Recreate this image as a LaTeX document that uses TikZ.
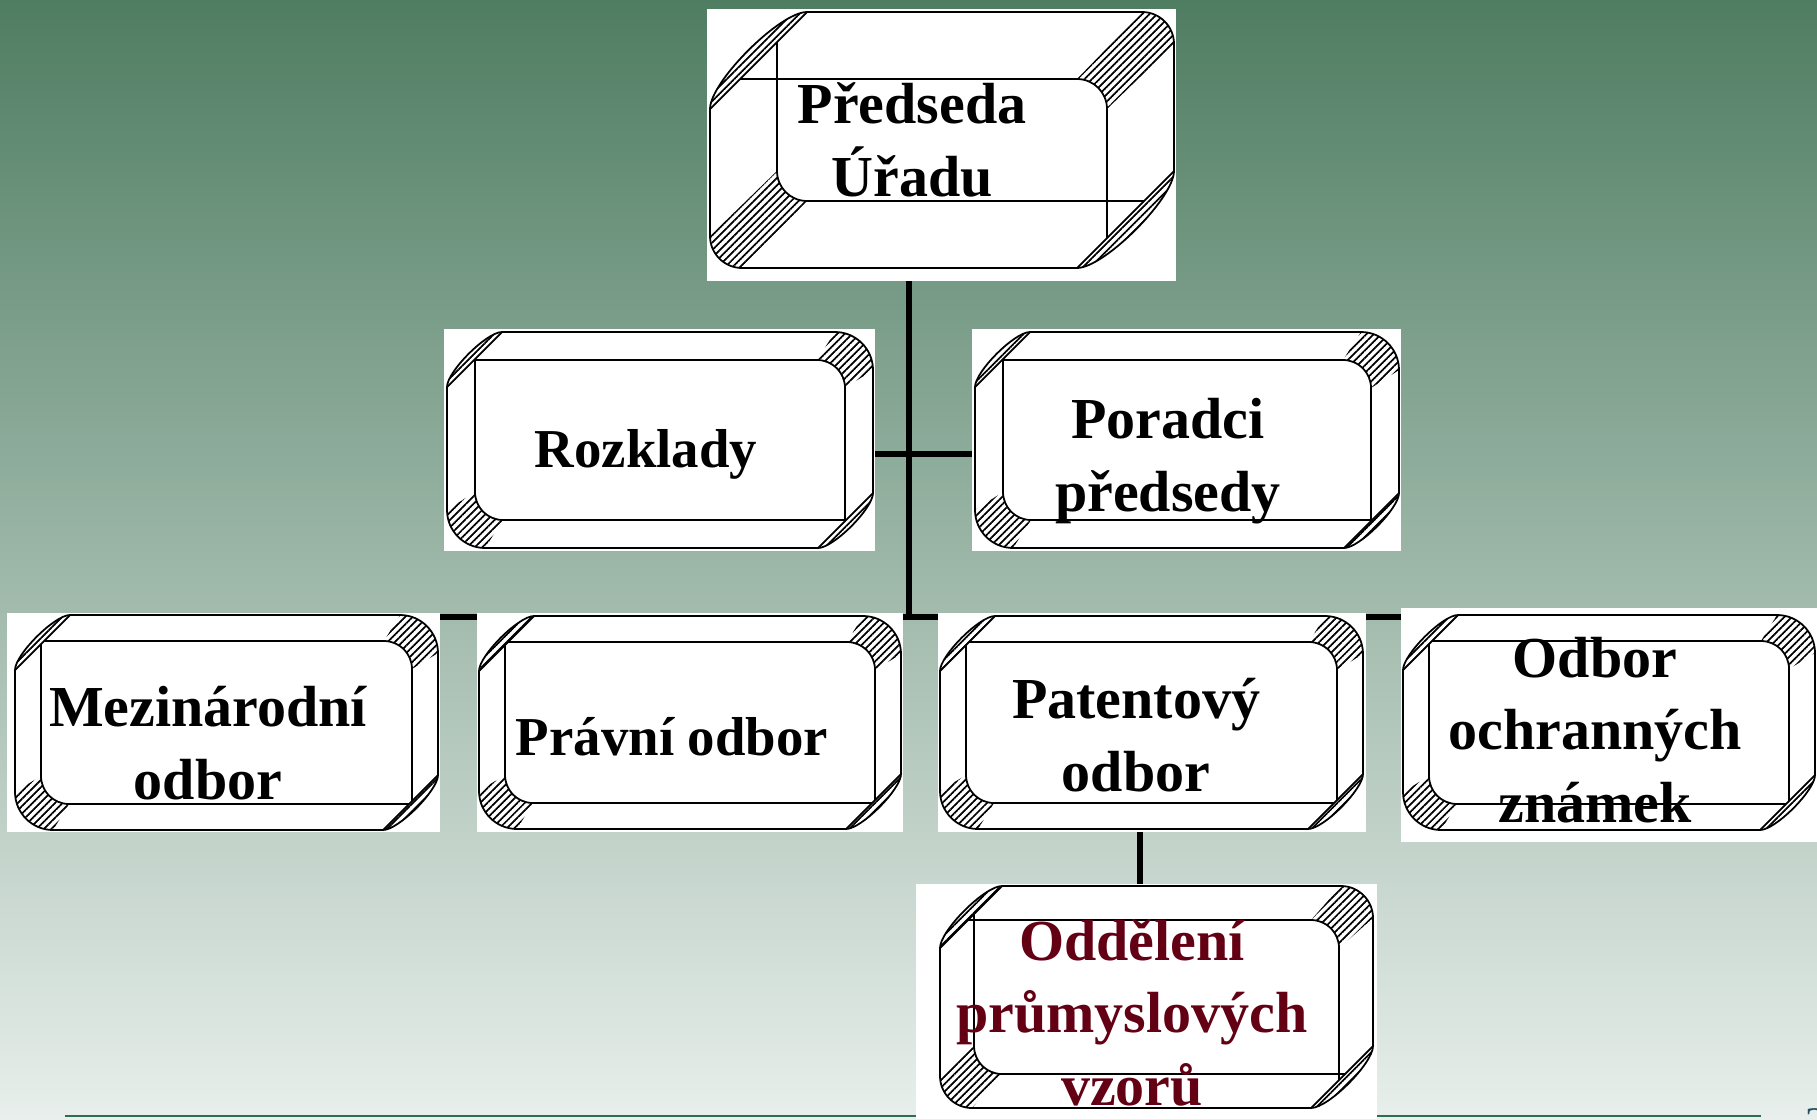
\documentclass[tikz,border=0pt]{standalone}
\usepackage{fontspec}
\setmainfont{Liberation Serif}
\usepackage{xcolor}
\usetikzlibrary{positioning, fit, patterns.meta}
\definecolor{bgtop}{HTML}{4F7D62}
\definecolor{bgmid}{HTML}{B7C7BE}
\definecolor{bgbot}{HTML}{E8EFEC}
\definecolor{footgreen}{HTML}{2E6E4C}
\definecolor{darkred}{HTML}{640014}
\definecolor{pagecol}{HTML}{24505F}
\pgfdeclarelayer{background}
\pgfdeclarelayer{lines}
\pgfsetlayers{background,lines,main}
\tikzdeclarepattern{
    name=bevhatch,
    bounding box={(0,-.3pt) and (1.5pt,.3pt)},
    tile size={(1.5pt,1.5pt)},
    tile transformation={rotate=45},
    code={\draw[line width=.5pt] (0,0) -- (1.5pt,0);}
}
\tikzset{
    boxbg/.style={rectangle, fill=white, inner sep=0pt},
    bev/.style={line width=0.5pt},
    lbl/.style={font=\fontsize{16.5}{20.5}\selectfont\bfseries, align=center, anchor=base, inner sep=0pt},
    slbl/.style={lbl, font=\fontsize{15.6}{20}\selectfont\bfseries},
    conn/.style={line width=1.7pt, line cap=rect},
}
% outer box a b c e, inset d, outer radius R, inner radius r, chamfer C
\newcommand\drawbevel[8]{
    \fill[pattern=bevhatch] (#1,#2+#8) .. controls (#1,#2+0.72*#8) and (#1+0.72*#8,#2) .. (#1+#8,#2) -- cycle;
    \fill[pattern=bevhatch] (#3,#4-#8) .. controls (#3,#4-0.72*#8) and (#3-0.72*#8,#4) .. (#3-#8,#4) -- cycle;
    \fill[pattern=bevhatch] (#3-#6,#2) .. controls (#3-0.448*#6,#2) and (#3,#2+0.448*#6) .. (#3,#2+#6)
        -- (#3-#5,#2+#5+#7) .. controls (#3-#5,#2+#5+0.448*#7) and (#3-#5-0.448*#7,#2+#5) .. (#3-#5-#7,#2+#5) -- cycle;
    \fill[pattern=bevhatch] (#1+#6,#4) .. controls (#1+0.448*#6,#4) and (#1,#4-0.448*#6) .. (#1,#4-#6)
        -- (#1+#5,#4-#5-#7) .. controls (#1+#5,#4-#5-0.448*#7) and (#1+#5+0.448*#7,#4-#5) .. (#1+#5+#7,#4-#5) -- cycle;
    \draw[bev] (#1,#2+#8) .. controls (#1,#2+0.72*#8) and (#1+0.72*#8,#2) .. (#1+#8,#2)
        -- (#3-#6,#2) .. controls (#3-0.448*#6,#2) and (#3,#2+0.448*#6) .. (#3,#2+#6)
        -- (#3,#4-#8) .. controls (#3,#4-0.72*#8) and (#3-0.72*#8,#4) .. (#3-#8,#4)
        -- (#1+#6,#4) .. controls (#1+0.448*#6,#4) and (#1,#4-0.448*#6) .. (#1,#4-#6) -- cycle;
    \draw[bev] (#1,#2+#8) -- (#1+#8,#2) (#3,#4-#8) -- (#3-#8,#4);
    \draw[bev] (#1+#8-#5,#2+#5) -- (#3-#5-#7,#2+#5) .. controls (#3-#5-0.448*#7,#2+#5) and (#3-#5,#2+#5+0.448*#7) .. (#3-#5,#2+#5+#7) -- (#3-#5,#4-#8+#5);
    \draw[bev] (#1+#5,#2+#8-#5) -- (#1+#5,#4-#5-#7) .. controls (#1+#5,#4-#5-0.448*#7) and (#1+#5+0.448*#7,#4-#5) .. (#1+#5+#7,#4-#5) -- (#3-#8+#5,#4-#5);
}
\begin{document}
\begin{tikzpicture}[x=0.1mm, y=-0.1mm]
    \useasboundingbox (0,0) rectangle (1817,1119);
    \node [boxbg, fit={(707,9) (1176,281)}] (predseda) {};
    \drawbevel{710}{12}{1174}{268}{67}{32}{30}{97}
    \node [lbl] (predsedaT) at (912,196) {Předseda\\Úřadu};
    \node [boxbg, fit={(444,329) (875,551)}] (rozklady) {};
    \drawbevel{447}{332}{873}{548}{28}{38}{28}{55}
    \node [slbl] (rozkladyT) at (646,467) {Rozklady};
    \node [boxbg, fit={(972,329) (1401,551)}] (poradci) {};
    \drawbevel{975}{332}{1399}{548}{28}{38}{28}{55}
    \node [lbl] (poradciT) at (1168,511) {Poradci\\předsedy};
    \node [boxbg, fit={(7,613) (440,832)}] (mezinarodni) {};
    \drawbevel{15}{615}{438}{830}{26}{38}{28}{55}
    \node [lbl] (mezinarodniT) at (208,799) {Mezinárodní\\odbor};
    \node [boxbg, fit={(477,613) (903,832)}] (pravni) {};
    \drawbevel{479}{616}{901}{829}{26}{38}{28}{55}
    \node [slbl] (pravniT) at (672,755) {Právní odbor};
    \node [boxbg, fit={(938,613) (1366,832)}] (patentovy) {};
    \drawbevel{940}{616}{1363}{829}{26}{38}{28}{55}
    \node [lbl] (patentovyT) at (1136,791) {Patentový\\odbor};
    \node [boxbg, fit={(1401,608) (1817,842)}] (ochranne) {};
    \drawbevel{1403}{615}{1815}{830}{26}{38}{28}{55}
    \node [lbl] (ochranneT) at (1595,822) {Odbor\\ochranných\\známek};
    \node [boxbg, fit={(916,884) (1377,1119)}] (oddeleni) {};
    \drawbevel{940}{886}{1373}{1108}{34}{32}{28}{62}
    \node [lbl, text=darkred] (oddeleniT) at (1132,1105) {Oddělení\\průmyslových\\vzorů};
    \node [font=\fontsize{12}{14}\selectfont, text=pagecol, anchor=base west, inner sep=0pt] (pagenum) at (1805,1136) {2};
    \begin{pgfonlayer}{lines}
        \coordinate (trunk) at (909,617);
        \coordinate (cross) at (909,454);
        \coordinate (drop) at (1140,0);
        \draw [conn] (predseda.south -| trunk) -- (trunk);
        \draw [conn] (cross -| rozklady.east) -- (cross -| poradci.west);
        \draw [conn] (trunk -| mezinarodni.east) -- (trunk -| ochranne.west);
        \draw [conn] (patentovy.south -| drop) -- (oddeleni.north -| drop);
    \end{pgfonlayer}
    \begin{pgfonlayer}{background}
        \shade [top color=bgtop, middle color=bgmid, bottom color=bgbot] (0,0) rectangle (1817,1119);
        \draw [footgreen, line width=0.7pt] (65,1116) -- (1761,1116);
    \end{pgfonlayer}
\end{tikzpicture}
\end{document}
